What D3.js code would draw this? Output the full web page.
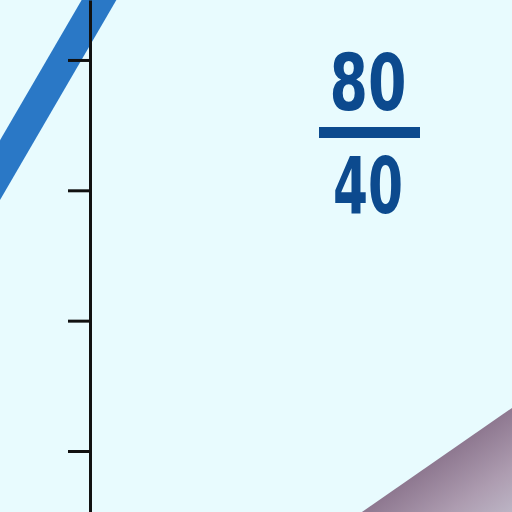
<!doctype html>
<html lang="en">
<head>
<meta charset="utf-8">
<title>80/40</title>
<style>
    html, body { margin: 0; padding: 0; background: #e8fbfe; }
    #plot { display: block; }
    .axis path, .axis line { stroke: #111; stroke-width: 3px; }
    .trend { fill: none; stroke: #2a78c6; stroke-width: 30px; }
    .frac { fill: #0c4a8e; font-family: "DejaVu Sans", sans-serif;
            font-weight: bold; font-size: 79px; text-anchor: middle; }
    .frac-bar { fill: #0c4a8e; }
</style>
</head>
<body>
<svg id="plot" width="512" height="512"></svg>
<script src="https://d3js.org/d3.v7.min.js"></script>
<script>
// values (axis units)
const yTicks = [0, 1, 2, 3];
const trendLine = [[-0.9, 1.795], [0.15, 3.599]];
const wedge = [[2.0, -0.528], [3.3, 0.373], [3.3, -0.6], [2.0, -0.6]];
const numerator = 80;
const denominator = 40;

let svg = d3.select("svg"),
    width = +svg.attr("width"),
    height = +svg.attr("height");

// one axis unit is ~130px; value 0 sits at y=451, axis at x=90
let y = d3.scaleLinear().domain([-0.468, 3.46]).range([height, 0]);
let x = d3.scaleLinear().domain([0, 1]).range([90, 220.33]);

svg.append("rect")
    .attr("width", width).attr("height", height)
    .attr("fill", "#e8fbfe");

// shaded wedge, bottom right
let defs = svg.append("defs");
let grad = defs.append("linearGradient")
    .attr("id", "wedgeGrad")
    .attr("gradientUnits", "userSpaceOnUse")
    .attr("x1", 437).attr("y1", 460)
    .attr("x2", 500).attr("y2", 550);
grad.append("stop").attr("offset", "0").attr("stop-color", "#8e7890");
grad.append("stop").attr("offset", "0.45").attr("stop-color", "#ad9cb0");
grad.append("stop").attr("offset", "0.8").attr("stop-color", "#bdb6c6");
grad.append("stop").attr("offset", "1").attr("stop-color", "#c9cfdc");

svg.append("path")
    .datum(wedge)
    .attr("fill", "url(#wedgeGrad)")
    .attr("d", d3.line().x(d => x(d[0])).y(d => y(d[1])).curve(d3.curveLinearClosed));

// thick blue line
svg.append("path")
    .datum(trendLine)
    .attr("class", "trend")
    .attr("d", d3.line().x(d => x(d[0])).y(d => y(d[1])));

// axis, drawn over the line
svg.append("g")
    .attr("class", "axis")
    .attr("transform", "translate(" + x(0) + ",0)")
    .call(d3.axisLeft(y).tickValues(yTicks).tickSize(22).tickSizeOuter(0).tickFormat(""));

// fraction (squeezed to the narrow look of the original)
let fx = 368;
svg.append("text").attr("class", "frac").attr("x", fx).attr("y", 110)
    .attr("textLength", 77).attr("lengthAdjust", "spacingAndGlyphs")
    .text(numerator);
svg.append("rect").attr("class", "frac-bar")
    .attr("x", 319).attr("y", 127).attr("width", 101).attr("height", 11);
svg.append("text").attr("class", "frac").attr("x", fx).attr("y", 213)
    .attr("textLength", 70).attr("lengthAdjust", "spacingAndGlyphs")
    .text(denominator);
</script>
</body>
</html>
